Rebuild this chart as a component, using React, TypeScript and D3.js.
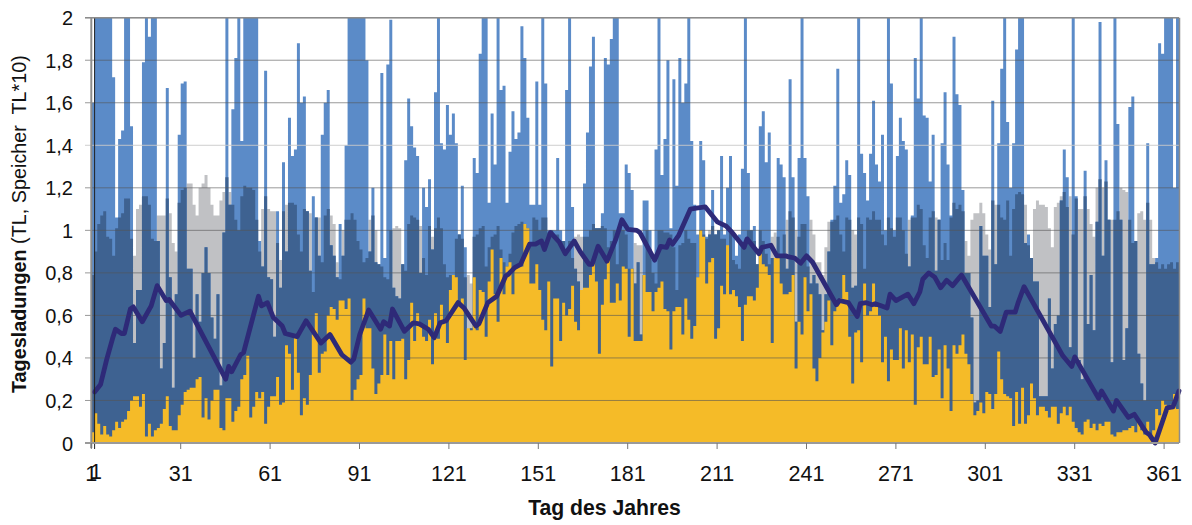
import React from "react";
import * as d3 from "d3";

const blueA: number[] = [
1.6,2.2,2.2,2.2,2.2,2.2,2.2,1.72,1.06,1.43,
1.47,2.2,2.2,1.49,.47,.72,.72,1.79,2.2,1.91,
2.2,2.2,.95,.35,.47,1.67,.78,.26,.7,1.45,
1.69,1.7,.82,.82,.4,.7,.57,.8,.92,.8,
.59,.49,.7,.27,.99,2.2,1.12,1.57,1.81,2.2,
1.42,2.2,2.2,2.2,2.2,2.2,.95,.83,1.75,.78,
.77,.5,1.09,.73,1.32,.9,1.53,1.35,1.38,1.88,
1.6,1.63,1.09,.81,1.16,1.06,.88,1.45,1.6,1.66,
.93,.88,.78,1.03,.88,1.4,2.2,2.2,2.2,2.2,
2.2,2.2,1.8,.9,1.2,.85,.84,1.74,.87,1.78,
1.99,.73,.69,.68,.84,1.33,1.62,1.49,1.39,1.35,
.8,1.2,1.11,1.24,.91,1.65,2.2,1.41,1.38,1.59,
1.45,1.55,1.41,.98,1.21,.92,.36,.54,1.34,1.27,
1.83,2.2,2.2,1.13,1.55,1.31,2.2,1.66,1.68,1.13,
1.37,1.56,1.43,1.46,1.96,1.81,1.53,1.12,1.12,1.7,
1.12,2.2,1.69,1,1,1,1.34,1,.95,1.66,
2.2,1.11,.82,.76,.72,1.22,1.46,1.77,1.91,1.01,
1.01,1.08,1.81,1.78,1.9,2.2,2.2,1.08,1.08,1.31,
1.27,1.19,.75,.85,.51,1.14,1.14,1,.86,1.38,
2.2,1.26,1.43,1.8,1.01,1.71,1.21,1.81,1.6,1.69,
2.2,1.42,1.12,.98,1.42,1.33,.97,.98,1.19,.98,
1,1.35,.98,1.2,1.35,.98,.88,.98,1.29,2.2,
1.27,1,1.02,.84,1.49,1.56,1.32,1.46,.87,.87,
1.34,1.31,1.25,.82,1.71,1.25,.57,1.34,2.2,1.34,
1.16,.75,.79,.75,.7,.53,.7,.9,1.05,1.21,
1.76,1.13,1.17,1.33,1.26,.73,.74,2.2,1.36,1.27,
1.14,1.36,1.61,1.31,1.23,1.45,1,2.2,1.69,1,
1.35,1.53,1.42,1.38,.83,
1.07,1.81,1.62,2.2,1.54,1.53,1.23,1.45,.81,1.05,
1.41,1.65,1.31,1.07,1.91,1.64,1.59,1.19,.8,.8,
.59,.19,.2,1.02,.88,.88,.64,1.61,.84,1.41,
1.76,2.2,1.51,1.2,1.41,1.85,2.2,2.2,.94,.98,
.87,.76,.76,.22,.22,.22,.68,.35,.56,.6,
1.14,1.38,1.25,.45,2.2,1.16,.39,.3,1.28,.56,
.79,.53,1.04,1.98,.88,1.33,1.05,.38,2.2,1.5,
1.05,.39,.54,1.58,1.63,.95,.42,.28,.2,1.41,
.84,.84,.87,1.88,1.83,2.2,2.2,2.2,1.2,2.2,
];

const greyG: number[] = [
.79,.9,1.03,1.07,1.09,.97,.96,.88,1.01,1.06,
1.08,1.15,1.15,.96,.88,1.1,1.12,1.16,1.16,1.12,
.96,.95,1.07,1.07,1.07,1.15,1.08,.94,.9,1.13,
1.19,1.2,1.22,1.22,1.12,1.07,1.2,1.22,1.26,1.2,
1.12,1.07,1.07,1.14,1.18,1.25,1.18,1.12,1.05,1,
1.16,1.21,1.2,1.2,1.19,1.05,.9,1.1,1.16,1.1,
1.09,1.09,.94,.86,1.09,1.12,1.13,1.13,1.12,.98,
.9,1.1,1.09,1.08,.71,1.06,1.06,.85,1.07,1.1,
1.07,1.03,.85,.77,1,1.05,1.05,1.08,1.05,.95,
.91,.85,.87,1.05,1.07,1,.84,.83,.78,.77,
1,1.01,1.02,1.01,.84,.81,1.03,1.07,1.06,1.05,
1.02,.87,.79,1.02,.97,1.01,1.06,1.01,.84,.78,
.79,.79,.96,.98,.96,.78,.79,.75,.97,.98,
1.01,1.02,.83,.92,.97,.98,1.02,.91,.85,.83,
.89,.99,1.02,1.03,1.04,1.03,1.01,.93,1.06,1.05,
1,1.06,1.06,.99,1,.96,.98,.95,.95,.91,
.95,.87,.97,.98,.97,.97,.97,1,1.03,1.01,
1.01,1.02,1.01,.92,.95,1,.84,1.01,1,.98,
.82,.82,.94,.93,.93,.79,1,.91,.8,.75,
1,1,.99,.99,.98,.92,.72,.93,.94,1,
.96,.94,.94,.78,1,.98,.96,1,1.02,.98,
1,.96,.96,.92,.99,.86,.84,.82,.92,.95,
1,1,.95,.84,1,.95,.89,.84,.97,.99,
.97,.87,.98,1.05,1.09,1.06,1,.97,1.03,1.03,
.83,1.05,.98,.85,.85,.79,.92,1.04,1.04,1.05,
1.07,.98,.9,1.06,1.05,1,.98,1.06,1.03,.82,
1.06,1.05,1.09,1.05,1.05,.98,.93,1.06,1.01,.97,
1.06,1.06,1,.89,1.05,
1.06,1.06,1.12,1.1,.93,.87,1.06,1.09,1.06,1.05,
.86,.94,.86,1.06,1.13,1.1,1.12,1.09,.95,.88,
1.05,1.08,1.08,1.13,1.08,.98,.91,1.14,1.12,1.12,
1.06,1.05,1.14,.88,1.1,1.17,1.18,1.17,1.12,.93,
.87,1.1,1.14,1.12,1.12,1.11,1.01,.92,1.11,1.13,
1.16,1.18,1.11,1.16,.98,1.15,1.1,1.1,1.16,1.1,
1.03,.97,1.2,1.24,1.2,1.23,1.05,1.05,1.05,1.09,
1.2,1.19,1.18,1.05,.94,.95,1.08,1.09,1.05,1.13,
1.05,.87,.85,.82,.84,.82,.84,.85,.82,.85,
];

const yellowY: number[] = [
.05,.14,.09,.04,.08,.04,.03,.06,.1,.07,
.1,.11,.15,.2,.22,.22,.17,.23,.03,.09,
.03,.06,.07,.09,.16,.22,.08,.06,.06,.13,
.18,.24,.25,.26,.26,.3,.31,.12,.21,.11,
.2,.25,.25,.07,.06,.21,.21,.1,.15,.17,
.3,.32,.41,.12,.17,.24,.21,.24,.09,.17,
.22,.22,.31,.18,.19,.46,.42,.25,.5,.33,
.13,.21,.18,.32,.51,.61,.33,.42,.43,.6,
.64,.63,.58,.67,.67,.63,.68,.2,.25,.3,
.32,.68,.54,.54,.35,.23,.28,.32,.51,.32,
.48,.3,.48,.48,.49,.3,.39,.66,.48,.61,
.56,.5,.48,.58,.37,.61,.49,.65,.57,.47,
.72,.79,.78,.66,.68,.39,.54,.53,.78,.53,
.72,.71,.5,.76,.91,.7,.57,.87,.7,.83,
.85,.7,.83,.84,.83,1.03,1.01,.75,.75,.84,
.72,.58,.53,.76,.36,.68,.68,.48,.66,.6,
.63,.74,.57,.53,.72,.73,.73,.79,.86,.76,
.42,.65,.77,.86,.66,.66,.75,.67,.83,.82,
.5,.82,.48,.48,.48,.79,.71,.71,.62,.71,
.73,.76,.63,.62,.44,.62,.64,.64,.51,.68,
.58,.49,.55,.78,1,.97,.75,.85,.87,.49,
.54,.74,.7,.93,.7,.72,.69,.64,.48,.65,
.69,.69,.67,.73,.89,.84,.83,.79,.47,.87,
.87,.75,.7,.7,.71,.79,.35,.57,.51,.78,
.62,.7,.35,.29,.4,.52,.57,.67,.46,.62,
.66,.68,.79,.71,.5,.28,.52,.53,.38,.75,
.6,.62,.75,.64,.6,.38,.5,.29,.44,.39,
.39,.54,.35,.53,.38,
.51,.18,.45,.5,.37,.37,.5,.31,.32,.44,
.21,.46,.35,.15,.46,.42,.46,.51,.42,.37,
.23,.13,.15,.19,.14,.24,.23,.16,.23,.43,
.3,.23,.22,.21,.08,.24,.09,.26,.09,.13,
.28,.21,.13,.17,.17,.15,.12,.17,.17,.09,
.14,.17,.13,.17,.1,.07,.05,.04,.1,.11,
.07,.09,.06,.09,.08,.1,.1,.04,.03,.05,
.05,.06,.06,.07,.08,.05,.1,.06,.04,.1,
.02,.06,.16,.13,.2,.18,.16,.18,.23,.16,
];

const lineDays: number[] = [
1,3,5,7,8,10,11,13,14,17,20,22,25,26,30,33,45,46,47,50,51,56,57,59,61,64,65,69,72,77,80,84,87,88,90,
93,97,98,100,101,105,108,110,113,115,117,119,123,125,129,130,133,136,139,140,142,144,147,149,151,152,154,157,159,162,164,167,168,170,173,176,178,180,183,
184,189,191,193,194,195,197,201,203,206,210,213,215,219,220,224,225,228,230,233,234,236,238,240,242,250,251,254,257,258,260,262,263,265,267,268,270,274,276,
278,279,281,283,285,287,289,292,302,303,305,307,310,311,313,326,329,330,338,339,343,344,348,350,354,355,357,361,363,365,
];
const lineVals: number[] = [
.24,.275,.39,.49,.535,.515,.515,.63,.64,.57,.645,.74,.67,.675,.6,.62,.3,.36,.335,.415,.425,.69,.645,.66,.59,.55,.515,.5,.575,.47,.51,.415,.38,.395,.51,
.625,.535,.57,.55,.63,.525,.565,.56,.535,.495,.565,.575,.66,.635,.55,.56,.66,.69,.785,.795,.825,.84,.935,.935,.95,.91,.99,.945,.89,.95,.9,.84,.84,.925,.855,.96,1.05,1.005,1,
.99,.86,.925,.92,.955,.935,.975,1.1,1.105,1.11,1.04,1.02,.99,.92,.96,.89,.92,.93,.88,.88,.875,.87,.845,.88,.85,.65,.67,.66,.595,.655,.66,.65,.655,.645,.635,.7,.67,.7,.655,
.71,.77,.8,.78,.73,.765,.74,.79,.55,.55,.525,.615,.615,.66,.735,.41,.36,.405,.21,.245,.15,.2,.12,.135,.05,.04,0,.165,.17,.245,
];

const yTicks = [0, .2, .4, .6, .8, 1, 1.2, 1.4, 1.6, 1.8, 2];
const xTicks = [1, 31, 61, 91, 121, 151, 181, 211, 241, 271, 301, 331, 361];
const yTitleBold = "Tagesladungen";
const yTitleRest = " (TL, Speicher  TL*10)";
const xTitle = "Tag des Jahres";

const W = 1192, H = 525;
const LEFT = 91.3, DAY = 2.98, TOP = 17.7, BOTTOM = 443;
const FONT = "'Liberation Sans', Arial, sans-serif";

export default function App() {
  const y = d3.scaleLinear().domain([0, 2]).range([BOTTOM, TOP]);
  const xEdge = d3.scaleLinear().domain([1, 366]).range([LEFT, LEFT + 365 * DAY]);
  const right = xEdge(366);
  const xLine = d3.scaleLinear().domain([1, 365]).range([94.6, right]);
  const path = d3.line<number>().x((_, i) => xLine(lineDays[i])).y(v => y(v))(lineVals) || "";
  const fmt = (v: number) => String(v).replace(".", ",");
  const stepArea = (vals: number[]) => {
    const a = d3.area<number>()
      .x((_, i) => xEdge(i + 1))
      .y0(BOTTOM)
      .y1(v => y(Math.min(v, 2)))
      .curve(d3.curveStepAfter);
    return a([...vals, vals[vals.length - 1]]) || "";
  };
  const darkVals = blueA.map((a, i) => Math.min(a, greyG[i] ?? 0));
  return (
    <svg width={W} height={H} style={{ position: "absolute", left: 0, top: 0, background: "#fff" }} fontFamily={FONT}>
      <path d={stepArea(greyG)} fill="#c0c1c4" />
      <path d={stepArea(blueA)} fill="#5b8bc8" />
      <path d={stepArea(darkVals)} fill="#3e6291" />
      <path d={stepArea(yellowY)} fill="#f5bb28" />
      {yTicks.map(t => (
        <line key={t} x1={85} x2={right} y1={y(t)} y2={y(t)}
          stroke={t === 1.4 ? "#c9c9c9" : "#555"} strokeOpacity={t === 1.4 ? 0.9 : 0.6} strokeWidth={1} />
      ))}
      <path d={path} fill="none" stroke="#2e2a78" strokeWidth={4.8} strokeLinejoin="round" strokeLinecap="round" />
      <line x1={LEFT} x2={LEFT} y1={TOP} y2={BOTTOM + 5} stroke="#8c8c8c" strokeWidth={2} />
      <line x1={94.6} x2={94.6} y1={TOP} y2={BOTTOM + 6} stroke="#222" strokeWidth={1} />
      <line x1={right + 0.5} x2={right + 0.5} y1={TOP} y2={BOTTOM} stroke="#8c8c8c" strokeWidth={1.5} />
      <line x1={85} x2={right} y1={TOP} y2={TOP} stroke="#8c8c8c" strokeWidth={1.5} />
      <line x1={85} x2={right} y1={BOTTOM} y2={BOTTOM} stroke="#9a9a9a" strokeWidth={2} />
      {xTicks.map(t => (
        <g key={t}>
          <line x1={xEdge(t)} x2={xEdge(t)} y1={BOTTOM} y2={BOTTOM + 6} stroke="#777" strokeWidth={1} />
          <text x={xEdge(t)} y={481} textAnchor="middle" fontSize={21.5} fill="#111">{t}</text>
        </g>
      ))}
      <text x={96} y={479} textAnchor="middle" fontSize={21.5} fill="#111">1</text>
      {yTicks.map(t => (
        <text key={t} x={73} y={y(t) + 7.5} textAnchor="end" fontSize={20} fill="#111">{fmt(t)}</text>
      ))}
      <text transform="translate(26,393) rotate(-90)" fontSize={19.8} fill="#111" xmlSpace="preserve">
        <tspan fontWeight="bold">{yTitleBold}</tspan>
        <tspan>{yTitleRest}</tspan>
      </text>
      <text x={604.5} y={515} textAnchor="middle" fontSize={21.2} fontWeight="bold" fill="#111">{xTitle}</text>
    </svg>
  );
}
